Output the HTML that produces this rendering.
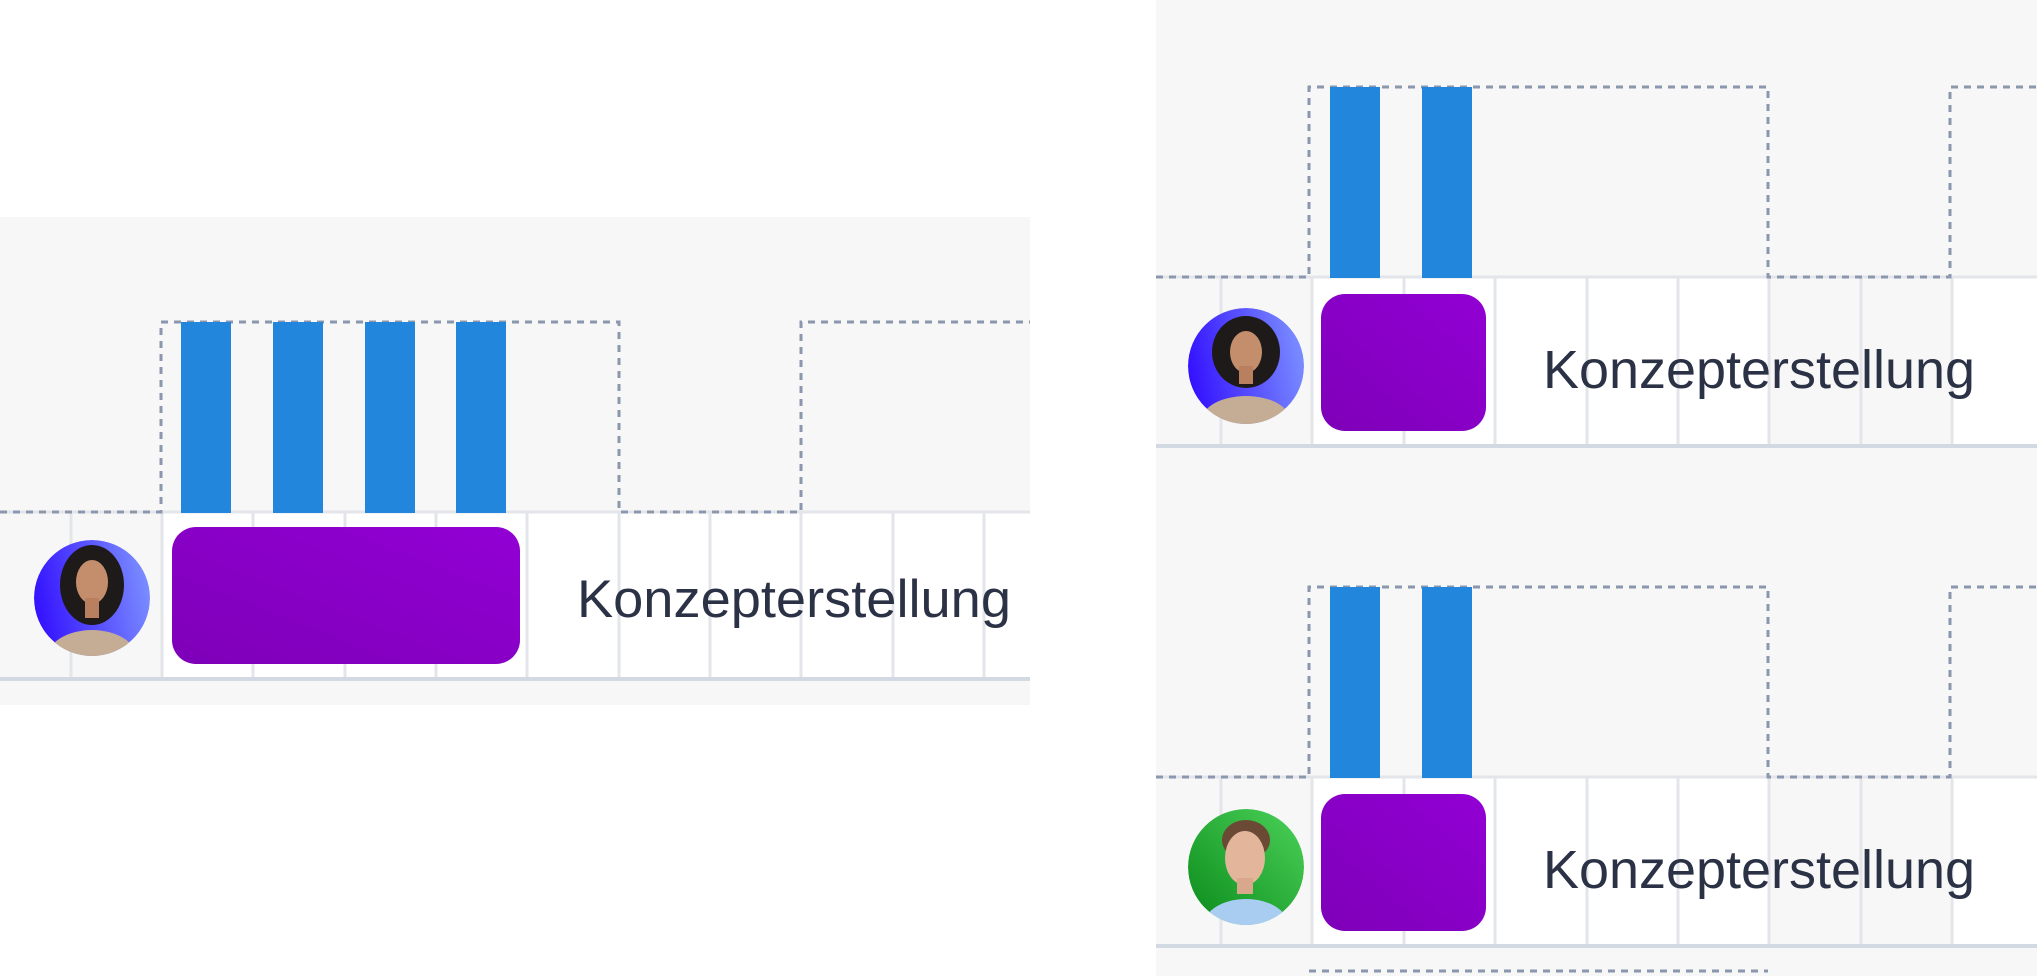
<!DOCTYPE html>
<html><head><meta charset="utf-8"><style>
html,body{margin:0;padding:0;background:#fff;width:2037px;height:976px;overflow:hidden}
svg{display:block}
text{font-family:"Liberation Sans","DejaVu Sans",sans-serif;fill:#2b3245}
</style></head><body>
<svg width="2037" height="976" viewBox="0 0 2037 976" xmlns="http://www.w3.org/2000/svg">
<defs>
<linearGradient id="pg" x1="0" y1="1" x2="1" y2="0"><stop offset="0" stop-color="#7e00b8"/><stop offset="1" stop-color="#9200d4"/></linearGradient>
<linearGradient id="bw" x1="0" y1="0.5" x2="1" y2="0.3"><stop offset="0" stop-color="#3412ff"/><stop offset="1" stop-color="#7c90ff"/></linearGradient>
<linearGradient id="gm" x1="0" y1="1" x2="1" y2="0"><stop offset="0" stop-color="#0a8a1a"/><stop offset="1" stop-color="#4cd25a"/></linearGradient>
<clipPath id="c1"><circle cx="92" cy="598" r="58"/></clipPath>
<clipPath id="c2"><circle cx="1246" cy="366" r="58"/></clipPath>
<clipPath id="c3"><circle cx="1246" cy="867" r="58"/></clipPath>
</defs>

<!-- LEFT PANEL -->
<rect x="0" y="217" width="1030" height="488" fill="#f7f7f7"/>
<rect x="162" y="512" width="868" height="166" fill="#fff"/>
<g stroke="#e3e5ea" stroke-width="3">
<line x1="71" y1="512" x2="71" y2="678"/><line x1="162" y1="512" x2="162" y2="678"/>
<line x1="253" y1="512" x2="253" y2="678"/><line x1="345" y1="512" x2="345" y2="678"/>
<line x1="436" y1="512" x2="436" y2="678"/><line x1="527" y1="512" x2="527" y2="678"/>
<line x1="619" y1="512" x2="619" y2="678"/><line x1="710" y1="512" x2="710" y2="678"/>
<line x1="801" y1="512" x2="801" y2="678"/><line x1="893" y1="512" x2="893" y2="678"/>
<line x1="984" y1="512" x2="984" y2="678"/>
<line x1="0" y1="512" x2="1030" y2="512"/>
</g>
<line x1="0" y1="679" x2="1030" y2="679" stroke="#d3d9e3" stroke-width="4"/>
<polyline points="0,512 161,512 161,322 619,322 619,512 801,512 801,322 1030,322" fill="none" stroke="#8a97ad" stroke-width="3" stroke-dasharray="7,6"/>
<g fill="#2386dd">
<rect x="181" y="322" width="50" height="191"/><rect x="273" y="322" width="50" height="191"/>
<rect x="365" y="322" width="50" height="191"/><rect x="456" y="322" width="50" height="191"/>
</g>
<rect x="172" y="527" width="348" height="137" rx="24" fill="url(#pg)"/>
<g clip-path="url(#c1)">
<circle cx="92" cy="598" r="58" fill="url(#bw)"/>
<ellipse cx="92" cy="585" rx="32" ry="40" fill="#1e1a1a"/>
<ellipse cx="92" cy="582" rx="16" ry="22" fill="#c48e6c"/>
<rect x="85" y="598" width="14" height="20" fill="#b8805e"/>
<ellipse cx="92" cy="660" rx="46" ry="30" fill="#c4ad94"/>
</g>
<text x="577" y="617" font-size="53" textLength="434" lengthAdjust="spacingAndGlyphs">Konzepterstellung</text>

<!-- RIGHT PANEL -->
<rect x="1156" y="0" width="881" height="976" fill="#f7f7f7"/>
<g id="row1">
<rect x="1312" y="277" width="456" height="169" fill="#fff"/>
<rect x="1950" y="277" width="87" height="169" fill="#fff"/>
<g stroke="#e3e5ea" stroke-width="3">
<line x1="1221" y1="277" x2="1221" y2="446"/><line x1="1312" y1="277" x2="1312" y2="446"/>
<line x1="1404" y1="277" x2="1404" y2="446"/><line x1="1495" y1="277" x2="1495" y2="446"/>
<line x1="1587" y1="277" x2="1587" y2="446"/><line x1="1678" y1="277" x2="1678" y2="446"/>
<line x1="1769" y1="277" x2="1769" y2="446"/><line x1="1861" y1="277" x2="1861" y2="446"/>
<line x1="1952" y1="277" x2="1952" y2="446"/>
<line x1="1156" y1="277" x2="2037" y2="277"/>
</g>
<line x1="1156" y1="446" x2="2037" y2="446" stroke="#d3d9e3" stroke-width="4"/>
<polyline points="1156,277 1309,277 1309,87 1768,87 1768,277 1950,277 1950,87 2037,87" fill="none" stroke="#8a97ad" stroke-width="3" stroke-dasharray="7,6"/>
<rect x="1330" y="87" width="50" height="191" fill="#2386dd"/>
<rect x="1422" y="87" width="50" height="191" fill="#2386dd"/>
<rect x="1321" y="294" width="165" height="137" rx="24" fill="url(#pg)"/>
<text x="1543" y="388" font-size="54" textLength="432" lengthAdjust="spacingAndGlyphs">Konzepterstellung</text>
</g>
<use href="#row1" transform="translate(0,500)"/>
<g clip-path="url(#c2)">
<circle cx="1246" cy="366" r="58" fill="url(#bw)"/>
<ellipse cx="1246" cy="352" rx="34" ry="36" fill="#1e1a1a"/>
<ellipse cx="1246" cy="352" rx="16" ry="21" fill="#c48e6c"/>
<rect x="1239" y="366" width="14" height="18" fill="#b8805e"/>
<ellipse cx="1246" cy="420" rx="44" ry="24" fill="#c4ad94"/>
</g>
<g clip-path="url(#c3)">
<circle cx="1246" cy="867" r="58" fill="url(#gm)"/>
<ellipse cx="1246" cy="840" rx="24" ry="20" fill="#6b4a35"/>
<ellipse cx="1245" cy="858" rx="20" ry="27" fill="#e3b59a"/>
<rect x="1237" y="878" width="16" height="16" fill="#d9a88c"/>
<ellipse cx="1246" cy="925" rx="42" ry="26" fill="#a9cdf0"/>
</g>
<line x1="1309" y1="971" x2="1768" y2="971" stroke="#8a97ad" stroke-width="3" stroke-dasharray="7,6"/>
</svg>
</body></html>
